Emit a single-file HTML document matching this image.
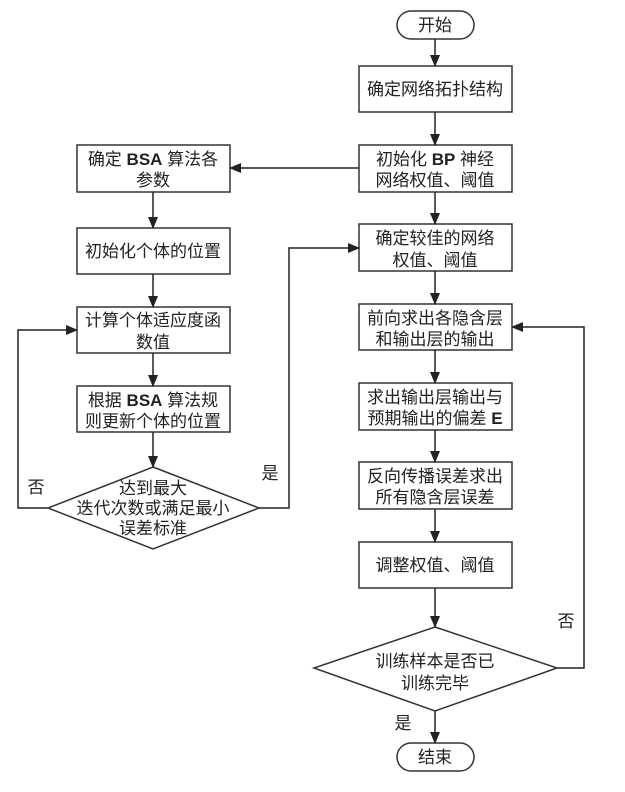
<!DOCTYPE html>
<html><head><meta charset="utf-8"><style>
body{margin:0;background:#fff}
svg text{font-family:"Liberation Sans","Noto Sans CJK SC",sans-serif;font-size:17px;fill:#222}
</style></head><body>
<svg width="625" height="787" viewBox="0 0 625 787" xmlns="http://www.w3.org/2000/svg">
<defs><marker id="a" markerWidth="12" markerHeight="10" refX="11" refY="5" orient="auto" markerUnits="userSpaceOnUse"><path d="M0,0 L12,5 L0,10 Z" fill="#222"/></marker></defs>
<g fill="none" stroke="#333" stroke-width="1.5">
<rect x="397" y="11" width="77" height="28" rx="14"/>
<rect x="359" y="66" width="153" height="46"/>
<rect x="359" y="145" width="153" height="47"/>
<rect x="359" y="224" width="153" height="47"/>
<rect x="359" y="304" width="153" height="46"/>
<rect x="359" y="383" width="153" height="47"/>
<rect x="359" y="462" width="153" height="47"/>
<rect x="359" y="542" width="153" height="46"/>
<path d="M435,627 L557,668 L435,711 L314,668 Z"/>
<rect x="397" y="743" width="77" height="28" rx="14"/>
<rect x="77" y="145" width="153" height="47"/>
<rect x="77" y="228" width="153" height="46"/>
<rect x="77" y="307" width="153" height="46"/>
<rect x="77" y="386" width="153" height="46"/>
<path d="M153,467 L259,508 L153,549 L48,508 Z"/>
</g>
<g stroke="#222" stroke-width="1.5" fill="none" marker-end="url(#a)">
<line x1="435" y1="39" x2="435" y2="66"/>
<line x1="435" y1="112" x2="435" y2="145"/>
<line x1="435" y1="192" x2="435" y2="224"/>
<line x1="435" y1="271" x2="435" y2="304"/>
<line x1="435" y1="350" x2="435" y2="383"/>
<line x1="435" y1="430" x2="435" y2="462"/>
<line x1="435" y1="509" x2="435" y2="542"/>
<line x1="435" y1="588" x2="435" y2="627"/>
<line x1="435" y1="711" x2="435" y2="743"/>
<polyline points="557,668 584,668 584,327 512,327"/>
<line x1="359" y1="168" x2="230" y2="168"/>
<line x1="153" y1="192" x2="153" y2="228"/>
<line x1="153" y1="274" x2="153" y2="307"/>
<line x1="153" y1="353" x2="153" y2="386"/>
<line x1="153" y1="432" x2="153" y2="467"/>
<polyline points="48,508 18,508 18,330 77,330"/>
<polyline points="259,508 289,508 289,248 359,248"/>
</g>
<g text-anchor="middle">
<text x="435" y="31">开始</text>
<text x="435" y="95">确定网络拓扑结构</text>
<text x="435" y="165">初始化 <tspan font-weight="bold">BP</tspan> 神经</text>
<text x="435" y="186">网络权值、阈值</text>
<text x="435" y="244">确定较佳的网络</text>
<text x="435" y="266">权值、阈值</text>
<text x="435" y="324">前向求出各隐含层</text>
<text x="435" y="345">和输出层的输出</text>
<text x="435" y="403">求出输出层输出与</text>
<text x="435" y="424">预期输出的偏差 <tspan font-weight="bold">E</tspan></text>
<text x="435" y="482">反向传播误差求出</text>
<text x="435" y="503">所有隐含层误差</text>
<text x="435" y="571">调整权值、阈值</text>
<text x="435" y="667">训练样本是否已</text>
<text x="435" y="689">训练完毕</text>
<text x="435" y="763">结束</text>
<text x="153" y="165">确定 <tspan font-weight="bold">BSA</tspan> 算法各</text>
<text x="153" y="186">参数</text>
<text x="153" y="257">初始化个体的位置</text>
<text x="153" y="326">计算个体适应度函</text>
<text x="153" y="348">数值</text>
<text x="153" y="406">根据 <tspan font-weight="bold">BSA</tspan> 算法规</text>
<text x="153" y="427">则更新个体的位置</text>
<text x="153" y="494">达到最大</text>
<text x="153" y="514">迭代次数或满足最小</text>
<text x="153" y="534">误差标准</text>
<text x="36" y="493">否</text>
<text x="270" y="479">是</text>
<text x="566" y="627">否</text>
<text x="403" y="729">是</text>
</g>
</svg>
</body></html>
